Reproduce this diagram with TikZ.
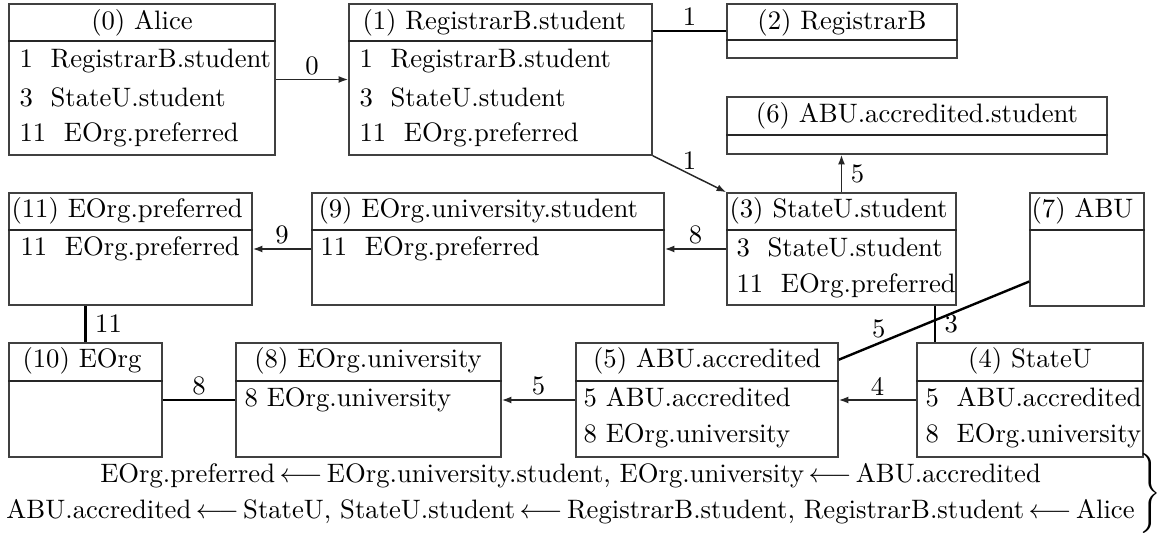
\documentclass[tikz,border=0pt]{standalone}
\usetikzlibrary{arrows.meta,calc,fit}
\newcommand{\lar}{\,{\longleftarrow}\,}
\begin{document}
\begin{tikzpicture}[x=0.375pt,y=-0.375pt,
  box/.style={draw=black!75,line width=0.6pt,inner sep=0pt},
  divider/.style={draw=black!85,line width=1.1pt},
  txt/.style={anchor=base west,inner sep=0pt},
  ttl/.style={anchor=base,inner sep=0pt},
  arr/.style={draw=black!85,line width=0.55pt,-{Latex[length=3.6pt,width=2.6pt]}},
  link/.style={draw=black,line width=0.9pt},
  lab/.style={inner sep=1.5pt},
  rlab/.style={inner sep=3.2pt}]
\useasboundingbox (0,0) rectangle (1167,554);
% boxes
\node[box,fit={(9,4) (275,155)}] (n0) {};
\node[box,fit={(349,4) (652,155)}] (n1) {};
\node[box,fit={(727,4) (957,58)}] (n2) {};
\node[box,fit={(727,97) (1107,154)}] (n6) {};
\node[box,fit={(727,193) (956,305)}] (n3) {};
\node[box,fit={(1030,193) (1144,306)}] (n7) {};
\node[box,fit={(9,193) (252,305)}] (n11) {};
\node[box,fit={(312,193) (664,305)}] (n9) {};
\node[box,fit={(9,343) (162,457)}] (n10) {};
\node[box,fit={(236,343) (501,457)}] (n8) {};
\node[box,fit={(576,343) (838,457)}] (n5) {};
\node[box,fit={(917,343) (1143,457)}] (n4) {};
% dividers
\draw[divider] (n0.west |- 0,41) -- (n0.east |- 0,41);
\draw[divider] (n1.west |- 0,41) -- (n1.east |- 0,41);
\draw[divider] (n2.west |- 0,40) -- (n2.east |- 0,40);
\draw[divider] (n6.west |- 0,135) -- (n6.east |- 0,135);
\draw[divider] (n3.west |- 0,230) -- (n3.east |- 0,230);
\draw[divider] (n7.west |- 0,230) -- (n7.east |- 0,230);
\draw[divider] (n11.west |- 0,230) -- (n11.east |- 0,230);
\draw[divider] (n9.west |- 0,230) -- (n9.east |- 0,230);
\draw[divider] (n10.west |- 0,381) -- (n10.east |- 0,381);
\draw[divider] (n8.west |- 0,381) -- (n8.east |- 0,381);
\draw[divider] (n5.west |- 0,381) -- (n5.east |- 0,381);
\draw[divider] (n4.west |- 0,381) -- (n4.east |- 0,381);
% titles
\node[ttl] (t0) at (142,30) {(0) Alice};
\node[txt] (t1) at (362,30) {(1) RegistrarB.student};
\node[ttl] (t2) at (842,30) {(2) RegistrarB};
\node[ttl] (t6) at (917,123) {(6) ABU.accredited.student};
\node[txt] (t3) at (729,218) {(3) StateU.student};
\node[txt] (t7) at (1031,218) {(7) ABU};
\node[txt] (t11) at (11,218) {(11) EOrg.preferred};
\node[txt] (t9) at (318,218) {(9) EOrg.university.student};
\node[txt] (t10) at (22,368) {(10) EOrg};
\node[ttl] (t8) at (368,368) {(8) EOrg.university};
\node[ttl] (t5) at (707,368) {(5) ABU.accredited};
\node[ttl] (t4) at (1030,368) {(4) StateU};
% rows
\node[txt] (r0a) at (19,68) {1~~RegistrarB.student};
\node[txt] (r0b) at (19,107) {3~~StateU.student};
\node[txt] (r0c) at (19,142) {11~~EOrg.preferred};
\node[txt] (r1a) at (359,68) {1~~RegistrarB.student};
\node[txt] (r1b) at (359,107) {3~~StateU.student};
\node[txt] (r1c) at (359,142) {11~~EOrg.preferred};
\node[txt] (r3a) at (736,257) {3~~StateU.student};
\node[txt] (r3b) at (736,293) {11~~EOrg.preferred};
\node[txt] (r11a) at (20,256) {11~~EOrg.preferred};
\node[txt] (r9a) at (320,256) {11~~EOrg.preferred};
\node[txt] (r8a) at (244,407) {8 EOrg.university};
\node[txt] (r5a) at (583,407) {5 ABU.accredited};
\node[txt] (r5b) at (583,443) {8 EOrg.university};
\node[txt] (r4a) at (925,407) {5~~ABU.accredited};
\node[txt] (r4b) at (925,443) {8~~EOrg.university};
% connectors
\draw[arr] (n0.east) -- node[lab,above] (l01) {0} (n1.west);
\draw[link] (n1.east |- n2.west) -- node[lab,above] (l12) {1} (n2.west);
\draw[arr] (n1.south east) -- node[lab,above] (l13) {1} (n3.north west);
\draw[arr] (n3.north) -- node[rlab,right] (l36) {5} (n3.north |- n6.south);
\draw[arr] (n3.west) -- node[lab,above] (l39) {8} (n9.east);
\draw[arr] (n9.west) -- node[lab,above] (l911) {9} (n11.east);
\draw[link] (n11.south -| n10.north) -- node[rlab,right] (l1110) {11} (n10.north);
\draw[link] (n10.east) -- node[lab,above] (l108) {8} (n8.west);
\draw[arr] (n5.west) -- node[lab,above] (l58) {5} (n8.east);
\draw[arr] (n4.west) -- node[lab,above] (l45) {4} (n5.east);
\draw[link] (n7.209.7) -- node[lab,above,pos=0.79] (l75) {5} (n5.17);
\draw[link] ($(n3.south east)+(-22,0)$) coordinate (c34) -- node[rlab,right] (l34) {3} (c34 |- n4.north);
% formula
\node[inner sep=0pt,anchor=east] (formula) at (1162,493) {\renewcommand{\arraystretch}{1.12}\setlength{\arraycolsep}{2pt}$\left.\begin{array}{c}
\mbox{EOrg.preferred}\lar\mbox{EOrg.university.student, EOrg.university}\lar\mbox{ABU.accredited}\\
\mbox{ABU.accredited}\lar\mbox{StateU, StateU.student}\lar\mbox{RegistrarB.student, RegistrarB.student}\lar\mbox{Alice}
\end{array}\right\}$};
\end{tikzpicture}
\end{document}
